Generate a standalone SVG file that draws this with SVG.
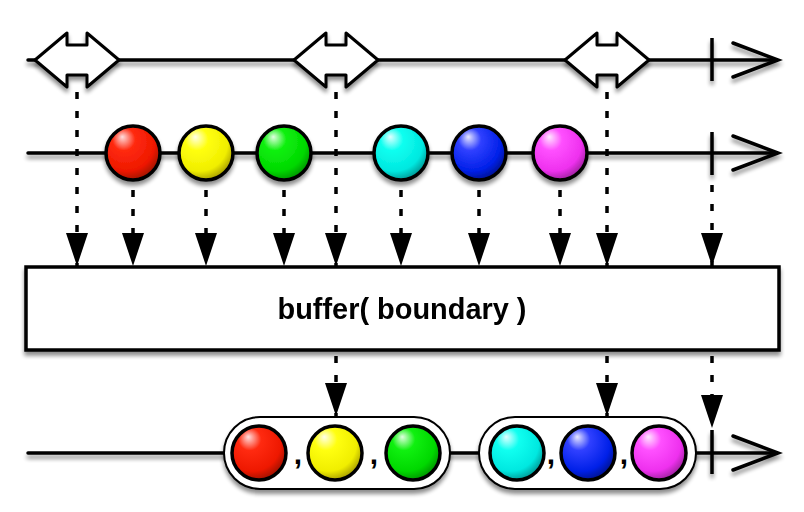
<svg xmlns="http://www.w3.org/2000/svg" width="804" height="512" viewBox="0 0 804 512">
<style>
.ln{stroke:#000;stroke-width:3.5;fill:none;stroke-linecap:round}
.tick{stroke:#000;stroke-width:3.5;fill:none}
.dash{stroke:#000;stroke-width:3.5;fill:none;stroke-dasharray:7 12}
.marble{stroke:#000;stroke-width:3.5}
.dbl{fill:#fff;stroke:#000;stroke-width:3;stroke-linejoin:round}
.box{fill:#fff;stroke:#000;stroke-width:3.5}
.grp{fill:#fff;stroke:#000;stroke-width:2}
.lbl{font-family:"Liberation Sans",Arial,sans-serif;font-weight:bold;fill:#000}
</style>
<defs>
<filter id="sh" x="-20%" y="-20%" width="140%" height="160%">
<feGaussianBlur in="SourceAlpha" stdDeviation="2.2"/>
<feOffset dx="0" dy="4" result="b"/>
<feComponentTransfer><feFuncA type="linear" slope="0.45"/></feComponentTransfer>
<feMerge><feMergeNode/><feMergeNode in="SourceGraphic"/></feMerge>
</filter>
<marker id="ah" viewBox="0 0 33 22" refX="33" refY="11" markerWidth="33" markerHeight="22" markerUnits="userSpaceOnUse" orient="auto">
<path d="M0,0 L33,11 L0,22 Z" fill="#000"/>
</marker>
<path id="open" d="M733,-17 L778,0 L733,17"/>
<radialGradient id="gr" cx="0.4" cy="0.35" r="0.7" fx="0.3" fy="0.2"><stop offset="0" stop-color="#ffdede"/><stop offset="0.3" stop-color="#ff2a10"/><stop offset="0.75" stop-color="#ee1800"/><stop offset="1" stop-color="#901000"/></radialGradient>
<radialGradient id="gy" cx="0.4" cy="0.35" r="0.7" fx="0.3" fy="0.2"><stop offset="0" stop-color="#ffffe8"/><stop offset="0.3" stop-color="#ffff10"/><stop offset="0.75" stop-color="#f0ee00"/><stop offset="1" stop-color="#9a9000"/></radialGradient>
<radialGradient id="gg" cx="0.4" cy="0.35" r="0.7" fx="0.3" fy="0.2"><stop offset="0" stop-color="#e0ffe0"/><stop offset="0.3" stop-color="#10f010"/><stop offset="0.75" stop-color="#00d800"/><stop offset="1" stop-color="#008a00"/></radialGradient>
<radialGradient id="gc" cx="0.4" cy="0.35" r="0.7" fx="0.3" fy="0.2"><stop offset="0" stop-color="#e0ffff"/><stop offset="0.3" stop-color="#10fff0"/><stop offset="0.75" stop-color="#00e8e0"/><stop offset="1" stop-color="#008a88"/></radialGradient>
<radialGradient id="gb" cx="0.4" cy="0.35" r="0.7" fx="0.3" fy="0.2"><stop offset="0" stop-color="#e6e6ff"/><stop offset="0.3" stop-color="#3040ff"/><stop offset="0.75" stop-color="#0020e8"/><stop offset="1" stop-color="#001080"/></radialGradient>
<radialGradient id="gm" cx="0.4" cy="0.35" r="0.7" fx="0.3" fy="0.2"><stop offset="0" stop-color="#ffe6ff"/><stop offset="0.3" stop-color="#ff50ff"/><stop offset="0.75" stop-color="#ee30ee"/><stop offset="1" stop-color="#902090"/></radialGradient>
</defs>

<g id="boundary-line" filter="url(#sh)">
<line class="ln" x1="28" y1="60" x2="776" y2="60"/>
<line class="tick" x1="712" y1="38" x2="712" y2="81"/>
<use href="#open" class="ln" transform="translate(0,60)"/>
</g>
<g id="boundary-1" filter="url(#sh)"><path class="dbl" d="M35,60 L67,33 L67,45 L87,45 L87,33 L119,60 L87,87 L87,75 L67,75 L67,87 Z"/></g>
<g id="boundary-2" filter="url(#sh)"><path class="dbl" d="M294,60 L326,33 L326,45 L346,45 L346,33 L378,60 L346,87 L346,75 L326,75 L326,87 Z"/></g>
<g id="boundary-3" filter="url(#sh)"><path class="dbl" d="M565,60 L597,33 L597,45 L617,45 L617,33 L649,60 L617,87 L617,75 L597,75 L597,87 Z"/></g>

<g id="source-line" filter="url(#sh)">
<line class="ln" x1="28" y1="153" x2="776" y2="153"/>
<line class="tick" x1="712" y1="132" x2="712" y2="175"/>
<use href="#open" class="ln" transform="translate(0,153)"/>
</g>
<g id="src-red" filter="url(#sh)"><circle class="marble" cx="133" cy="153" r="27" fill="url(#gr)"/></g>
<g id="src-yellow" filter="url(#sh)"><circle class="marble" cx="206" cy="153" r="27" fill="url(#gy)"/></g>
<g id="src-green" filter="url(#sh)"><circle class="marble" cx="284" cy="153" r="27" fill="url(#gg)"/></g>
<g id="src-cyan" filter="url(#sh)"><circle class="marble" cx="401" cy="153" r="27" fill="url(#gc)"/></g>
<g id="src-blue" filter="url(#sh)"><circle class="marble" cx="479" cy="153" r="27" fill="url(#gb)"/></g>
<g id="src-magenta" filter="url(#sh)"><circle class="marble" cx="560" cy="153" r="27" fill="url(#gm)"/></g>

<g id="connectors">
<line class="dash" x1="77" y1="92" x2="77" y2="266" marker-end="url(#ah)"/>
<line class="dash" x1="133" y1="190" x2="133" y2="266" marker-end="url(#ah)"/>
<line class="dash" x1="206" y1="190" x2="206" y2="266" marker-end="url(#ah)"/>
<line class="dash" x1="284" y1="190" x2="284" y2="266" marker-end="url(#ah)"/>
<line class="dash" x1="336" y1="92" x2="336" y2="266" marker-end="url(#ah)"/>
<line class="dash" x1="401" y1="190" x2="401" y2="266" marker-end="url(#ah)"/>
<line class="dash" x1="479" y1="190" x2="479" y2="266" marker-end="url(#ah)"/>
<line class="dash" x1="560" y1="190" x2="560" y2="266" marker-end="url(#ah)"/>
<line class="dash" x1="607" y1="92" x2="607" y2="266" marker-end="url(#ah)"/>
<line class="dash" x1="712" y1="185" x2="712" y2="266" marker-end="url(#ah)"/>
<line class="dash" x1="336" y1="356" x2="336" y2="416" marker-end="url(#ah)"/>
<line class="dash" x1="607" y1="356" x2="607" y2="416" marker-end="url(#ah)"/>
<line class="dash" x1="712" y1="356" x2="712" y2="428" marker-end="url(#ah)"/>
</g>

<g id="operator" filter="url(#sh)">
<rect class="box" x="26" y="267" width="753" height="83"/>
<text class="lbl" x="402" y="319" font-size="30" text-anchor="middle" textLength="249" lengthAdjust="spacingAndGlyphs">buffer( boundary )</text>
</g>

<g id="result-line" filter="url(#sh)">
<line class="ln" x1="28" y1="453" x2="776" y2="453"/>
<line class="tick" x1="712" y1="430" x2="712" y2="474"/>
<use href="#open" class="ln" transform="translate(0,453)"/>
</g>
<g id="buffer-1">
<rect class="grp" x="224" y="417" width="226" height="72" rx="36" filter="url(#sh)"/>
<circle class="marble" cx="259" cy="453" r="27" fill="url(#gr)"/>
<circle class="marble" cx="335" cy="453" r="27" fill="url(#gy)"/>
<circle class="marble" cx="413" cy="453" r="27" fill="url(#gg)"/>
<text class="lbl" x="298" y="464" font-size="30" text-anchor="middle">,</text>
<text class="lbl" x="374" y="464" font-size="30" text-anchor="middle">,</text>
</g>
<g id="buffer-2">
<rect class="grp" x="479" y="417" width="217" height="72" rx="36" filter="url(#sh)"/>
<circle class="marble" cx="517" cy="453" r="27" fill="url(#gc)"/>
<circle class="marble" cx="588" cy="453" r="27" fill="url(#gb)"/>
<circle class="marble" cx="659" cy="453" r="27" fill="url(#gm)"/>
<text class="lbl" x="551" y="464" font-size="30" text-anchor="middle">,</text>
<text class="lbl" x="624" y="464" font-size="30" text-anchor="middle">,</text>
</g>
</svg>
